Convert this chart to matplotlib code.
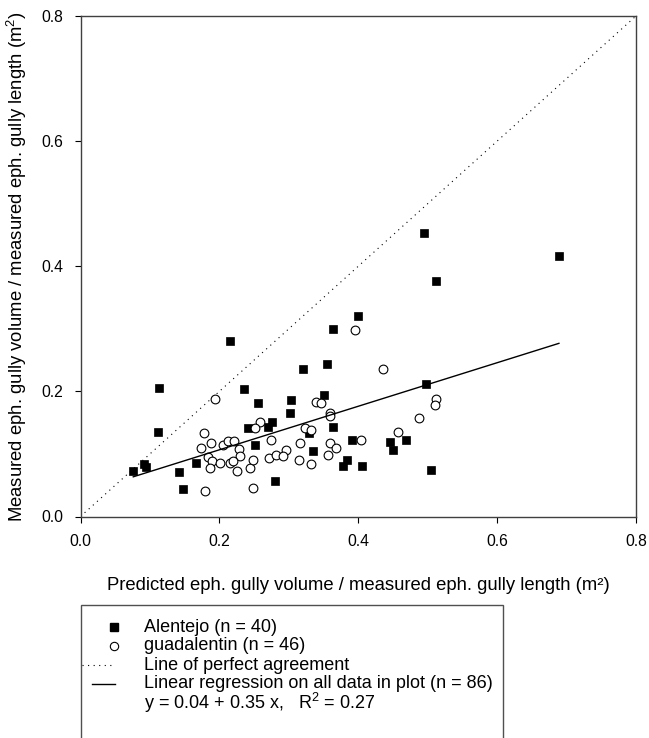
import numpy as np
import matplotlib.pyplot as plt
from matplotlib.lines import Line2D
from matplotlib.patches import Rectangle

plt.rcParams['font.family'] = ['Liberation Sans', 'DejaVu Sans']
plt.rcParams['mathtext.fontset'] = 'custom'
plt.rcParams['mathtext.rm'] = 'Liberation Sans'

# Alentejo (filled squares): predicted vs measured
alentejo_pred = [0.076, 0.092, 0.094, 0.113, 0.112, 0.142, 0.148, 0.166, 0.215, 0.236,
                 0.256, 0.241, 0.270, 0.276, 0.251, 0.280, 0.512, 0.399, 0.364, 0.321,
                 0.355, 0.303, 0.301, 0.350, 0.497, 0.363, 0.329, 0.335, 0.391, 0.384,
                 0.378, 0.405, 0.446, 0.450, 0.469, 0.505, 0.689, 0.495]
alentejo_meas = [0.073, 0.084, 0.079, 0.206, 0.135, 0.071, 0.044, 0.086, 0.280, 0.203,
                 0.181, 0.142, 0.143, 0.151, 0.115, 0.056, 0.377, 0.320, 0.299, 0.235,
                 0.243, 0.187, 0.166, 0.194, 0.212, 0.143, 0.133, 0.105, 0.122, 0.091,
                 0.080, 0.080, 0.119, 0.106, 0.122, 0.075, 0.417, 0.453]

# guadalentin (open circles)
guad_pred = [0.193, 0.178, 0.188, 0.174, 0.205, 0.213, 0.221, 0.228, 0.230, 0.184,
             0.189, 0.187, 0.201, 0.216, 0.220, 0.226, 0.244, 0.248, 0.179, 0.249,
             0.258, 0.252, 0.275, 0.272, 0.281,
             0.395, 0.435, 0.339, 0.346, 0.360, 0.359, 0.512, 0.510, 0.488, 0.457,
             0.404, 0.324, 0.332, 0.316, 0.359, 0.368, 0.356, 0.315, 0.332, 0.296, 0.291]
guad_meas = [0.188, 0.133, 0.117, 0.109, 0.115, 0.120, 0.120, 0.108, 0.096, 0.095,
             0.088, 0.077, 0.086, 0.085, 0.088, 0.073, 0.077, 0.091, 0.041, 0.045,
             0.151, 0.142, 0.122, 0.094, 0.099,
             0.298, 0.235, 0.183, 0.181, 0.165, 0.160, 0.188, 0.178, 0.158, 0.135,
             0.122, 0.141, 0.138, 0.118, 0.118, 0.109, 0.099, 0.090, 0.084, 0.106, 0.097]

# regression on all points (shown rounded in the legend)
reg_intercept = 0.037
reg_slope = 0.348
perfect = [0.0, 0.8]

ticks = [0.0, 0.2, 0.4, 0.6, 0.8]
legend_labels = ['Alentejo (n = 40)', 'guadalentin (n = 46)', 'Line of perfect agreement',
                 'Linear regression on all data in plot (n = 86)',
                 'y = 0.04 + 0.35 x,   R$^2$ = 0.27']

W, H = 649, 738
fig = plt.figure(figsize=(W / 100, H / 100), dpi=100)

def fx(px):
    return px / W

def fy(py):
    return 1 - py / H

ax = fig.add_axes([fx(80.5), fy(516.5), fx(636) - fx(80.5), fy(16) - fy(516.5)])

dot_style = (0, (1, 4))
ax.plot(perfect, perfect, color='black', lw=0.8, linestyle=dot_style)
ax.plot(alentejo_pred, alentejo_meas, 's', color='black', ms=5.8, mec='black', mew=0.5)
ax.plot(guad_pred, guad_meas, 'o', mfc='white', mec='black', ms=6.3, mew=0.8)

all_pred = np.array(alentejo_pred + guad_pred)
xr = np.array([all_pred.min(), all_pred.max()])
ax.plot(xr, reg_intercept + reg_slope * xr, color='black', lw=1.0)

ax.set_xlim(0, 0.8)
ax.set_ylim(0, 0.8)
ax.set_xticks(ticks)
ax.set_yticks(ticks)
ax.set_xticklabels(['%.1f' % t for t in ticks])
ax.set_yticklabels(['%.1f' % t for t in ticks])
ax.tick_params(direction='out', length=4.3, width=0.8, labelsize=11.3, pad=8)
for s in ax.spines.values():
    s.set_color('#404040')
    s.set_linewidth(1.0)

ax.set_xlabel('Predicted eph. gully volume / measured eph. gully length (m²)',
              fontsize=13.3, va='center')
ax.xaxis.set_label_coords(0.5, (516.5 - 586) / 500.5)
ax.set_ylabel('Measured eph. gully volume / measured eph. gully length (m$^2$)',
              fontsize=13.3, va='center')
ax.yaxis.set_label_coords((17 - 80.5) / 555.5, 0.5)

# legend box drawn by hand below the axes
fig.patches.append(Rectangle((fx(81), fy(745)), fx(503) - fx(81), fy(605) - fy(745),
                             transform=fig.transFigure, fill=False,
                             edgecolor='#505050', lw=1.0))
row_y = [627, 646, 665, 684, 703]
hx0, hx1, tx, mx = 82, 115, 144, 114
fig.add_artist(Line2D([fx(mx)], [fy(row_y[0])], marker='s', color='black', ms=5.8, lw=0))
fig.add_artist(Line2D([fx(mx)], [fy(row_y[1])], marker='o', mfc='white', mec='black',
                      ms=6, mew=0.8, lw=0))
fig.add_artist(Line2D([fx(hx0), fx(hx1)], [fy(row_y[2])] * 2, color='black', lw=0.8,
                      linestyle=dot_style))
fig.add_artist(Line2D([fx(hx0 + 10), fx(hx1)], [fy(row_y[3])] * 2, color='black', lw=1.0))
for lab, y in zip(legend_labels, row_y):
    fig.text(fx(tx), fy(y), lab, fontsize=13, va='center', ha='left')

fig.savefig('out.png', dpi=100)
